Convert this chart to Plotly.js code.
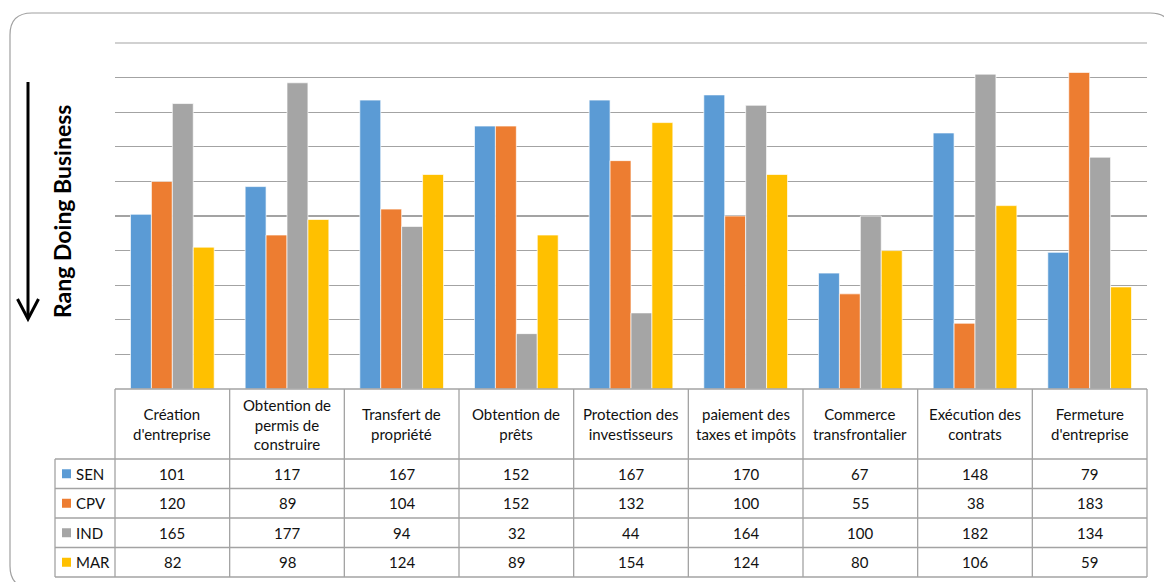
<!DOCTYPE html>
<html>
<head>
<meta charset="utf-8">
<script src="https://cdn.plot.ly/plotly-3.0.1.min.js"></script>
<style>html,body{margin:0;padding:0;background:#fff;}#chart{width:1164px;height:582px;}</style>
</head>
<body>
<div id="chart"></div>
<script>
// ---- data ----
const categories = ["Création<br>d'entreprise", "Obtention de<br>permis de<br>construire", "Transfert de<br>propriété", "Obtention de<br>prêts", "Protection des<br>investisseurs", "paiement des<br>taxes et impôts", "Commerce<br>transfrontalier", "Exécution des<br>contrats", "Fermeture<br>d'entreprise"];
const seriesNames = ["SEN", "CPV", "IND", "MAR"];
const SEN = [101, 117, 167, 152, 167, 170, 67, 148, 79];
const CPV = [120, 89, 104, 152, 132, 100, 55, 38, 183];
const IND = [165, 177, 94, 32, 44, 164, 100, 182, 134];
const MAR = [82, 98, 124, 89, 154, 124, 80, 106, 59];
const yTitle = "Rang Doing Business";
const yMax = 200, yStep = 20;

// ---- style ----
const seriesValues = [SEN, CPV, IND, MAR];
const colors = ["#5B9BD5", "#ED7D31", "#A5A5A5", "#FFC000"];
const FONT = "Lato, 'Open Sans', sans-serif";
const lineCol = "#a3a3a3";
const TXT = 15;

// layout geometry (pixels)
const W = 1164, H = 582;
const PL = 115, PR = 1147, PT = 43, PB = 389;
const px = x => (x - PL) / (PR - PL);
const py = y => (PB - y) / (PB - PT);

const headerBottom = 459, rowH = 29.5, legendLeft = 55;
const nCat = categories.length;

const traces = seriesNames.map((name, i) => ({
  type: 'bar',
  name: name,
  x: categories.map((c, j) => j),
  y: seriesValues[i],
  marker: {color: colors[i], line: {color: 'rgba(255,255,255,0.85)', width: 0.8}},
  hoverinfo: 'x+y+name'
}));

const shapes = [];
const annotations = [];

// top gridline (range edge)
shapes.push({type: 'line', xref: 'paper', yref: 'paper', x0: 0, x1: 1, y0: 1, y1: 1, line: {color: lineCol, width: 1.2}, layer: 'below'});

// rounded outer border
(function(){
  const x0 = 10, y0 = 13, x1 = 1172, y1 = 588, r = 22;
  const P = (x, y) => px(x) + ',' + py(y);
  const path = 'M ' + P(x0 + r, y0) + ' L ' + P(x1 - r, y0) +
    ' Q ' + P(x1, y0) + ' ' + P(x1, y0 + r) +
    ' L ' + P(x1, y1 - r) + ' Q ' + P(x1, y1) + ' ' + P(x1 - r, y1) +
    ' L ' + P(x0 + r, y1) + ' Q ' + P(x0, y1) + ' ' + P(x0, y1 - r) +
    ' L ' + P(x0, y0 + r) + ' Q ' + P(x0, y0) + ' ' + P(x0 + r, y0) + ' Z';
  shapes.push({type: 'path', xref: 'paper', yref: 'paper', path: path,
    line: {color: '#a0a0a0', width: 1.2}, layer: 'below'});
})();

// table horizontal lines
shapes.push({type: 'line', xref: 'paper', yref: 'paper', x0: 0, x1: 1, y0: py(PB), y1: py(PB), line: {color: lineCol, width: 1.3}});
for (let r = 0; r <= seriesNames.length; r++) {
  const y = headerBottom + r * rowH;
  shapes.push({type: 'line', xref: 'paper', yref: 'paper', x0: px(legendLeft), x1: 1, y0: py(y), y1: py(y), line: {color: lineCol, width: 1.3}});
}
// table vertical lines
shapes.push({type: 'line', xref: 'paper', yref: 'paper', x0: px(legendLeft), x1: px(legendLeft), y0: py(headerBottom), y1: py(headerBottom + seriesNames.length * rowH), line: {color: lineCol, width: 1.3}});
for (let c = 0; c <= nCat; c++) {
  const xp = c / nCat;
  shapes.push({type: 'line', xref: 'paper', yref: 'paper', x0: xp, x1: xp, y0: py(PB), y1: py(headerBottom + seriesNames.length * rowH), line: {color: lineCol, width: 1.3}});
}

// header texts
categories.forEach((c, j) => {
  annotations.push({xref: 'x', yref: 'paper', x: j, y: py((PB + headerBottom) / 2),
    text: c, showarrow: false, xanchor: 'center', yanchor: 'middle',
    font: {family: FONT, size: TXT, color: '#111'}});
});

// rows
seriesNames.forEach((name, i) => {
  const yc = headerBottom + (i + 0.5) * rowH;
  // legend key
  shapes.push({type: 'rect', xref: 'paper', yref: 'paper', x0: px(62), x1: px(71), y0: py(yc - 4.5), y1: py(yc + 4.5),
    fillcolor: colors[i], line: {width: 0}});
  annotations.push({xref: 'paper', yref: 'paper', x: px(74), y: py(yc), text: name, showarrow: false,
    xanchor: 'left', yanchor: 'middle', font: {family: FONT, size: TXT, color: '#111'}});
  seriesValues[i].forEach((v, j) => {
    annotations.push({xref: 'x', yref: 'paper', x: j, y: py(yc), text: String(v), showarrow: false,
      xanchor: 'center', yanchor: 'middle', font: {family: FONT, size: TXT, color: '#111'}});
  });
});

// y title
annotations.push({xref: 'paper', yref: 'paper', x: px(62), y: py(212), text: '<b>' + yTitle + '</b>',
  textangle: -90, showarrow: false, xanchor: 'center', yanchor: 'middle',
  font: {family: FONT, size: 23, color: '#000'}});

// down arrow
shapes.push({type: 'line', xref: 'paper', yref: 'paper', x0: px(28), x1: px(28), y0: py(82), y1: py(318), line: {color: '#000', width: 3}});
shapes.push({type: 'path', xref: 'paper', yref: 'paper',
  path: 'M ' + px(17.5) + ',' + py(299) + ' L ' + px(28) + ',' + py(319) + ' L ' + px(38.5) + ',' + py(299),
  line: {color: '#000', width: 3}});

const layout = {
  width: W, height: H,
  margin: {l: PL, r: W - PR, t: PT, b: H - PB, pad: 0},
  paper_bgcolor: '#fff', plot_bgcolor: '#fff',
  showlegend: false,
  barmode: 'group', bargap: 0.27, bargroupgap: 0,
  xaxis: {range: [-0.5, nCat - 0.5], showticklabels: false, showgrid: false, zeroline: false, showline: false, ticks: '', fixedrange: true},
  yaxis: {range: [0, yMax], dtick: yStep, showticklabels: false, showgrid: true, gridcolor: lineCol, gridwidth: 1.2, zeroline: false, showline: false, ticks: '', fixedrange: true},
  shapes: shapes,
  annotations: annotations,
  font: {family: FONT}
};

Plotly.newPlot('chart', traces, layout, {displayModeBar: false, staticPlot: true});
</script>
</body>
</html>
